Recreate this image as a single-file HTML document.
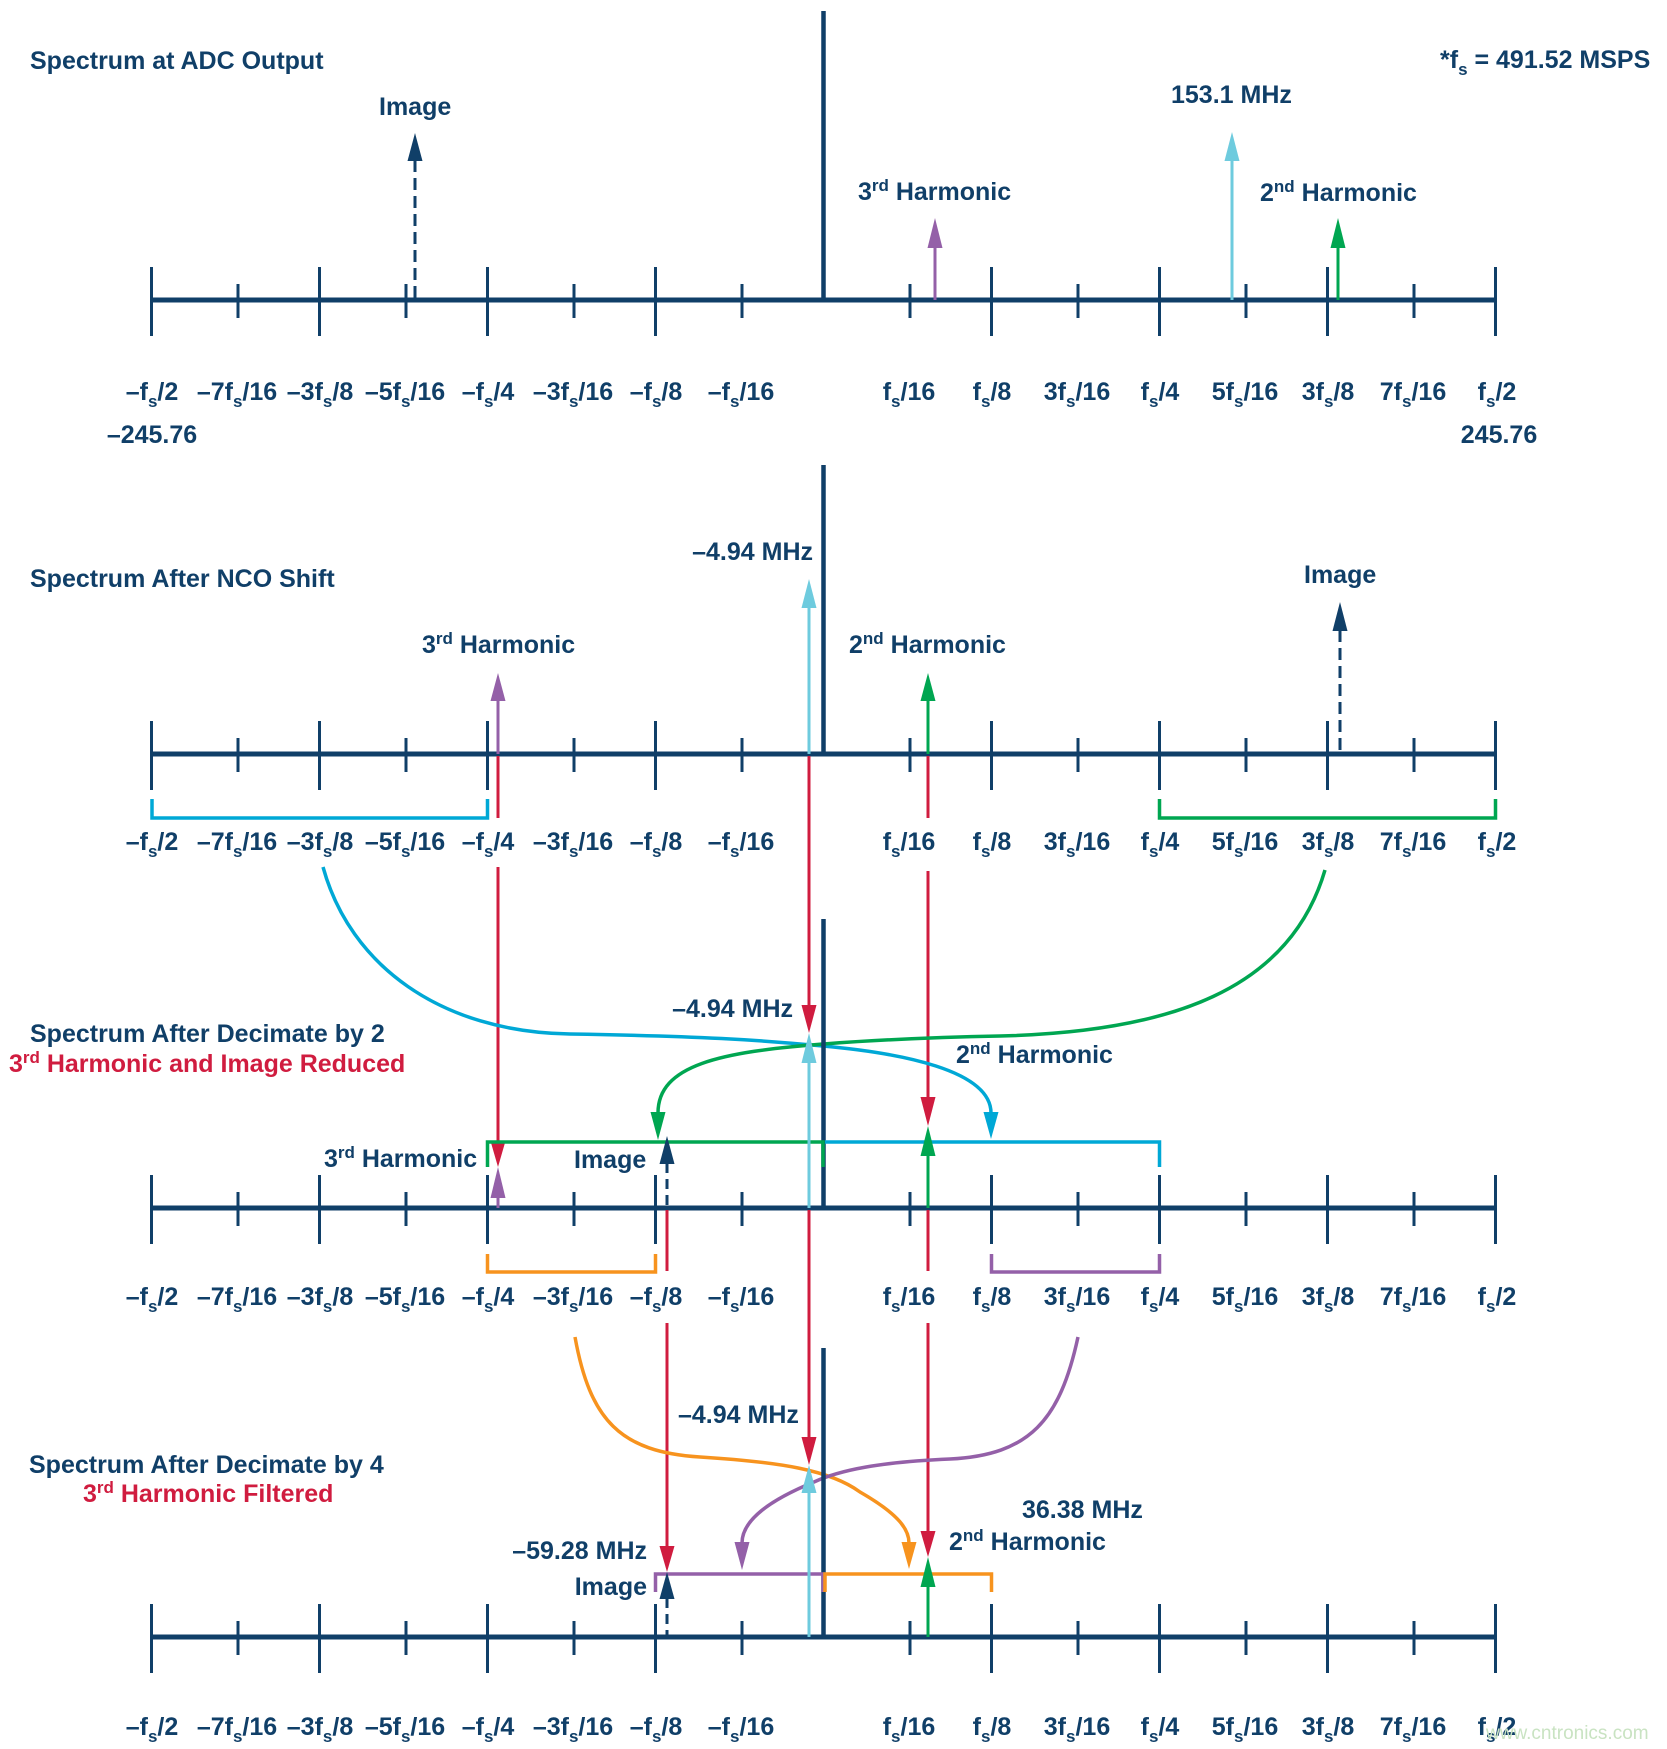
<!DOCTYPE html>
<html>
<head>
<meta charset="utf-8">
<style>
  html,body{margin:0;padding:0;background:#fff;}
  svg{display:block;}
  text{font-family:"Liberation Sans",Arial,sans-serif;font-weight:bold;font-size:25px;fill:#103f68;}
  .red{fill:#d01c3f;}
  .lbl{text-anchor:middle;}
</style>
</head>
<body>
<svg width="1667" height="1749" viewBox="0 0 1667 1749" xmlns="http://www.w3.org/2000/svg">
<defs>
  <g id="axis" stroke="#103f68" fill="none">
    <line x1="151.5" y1="0" x2="1495.5" y2="0" stroke-width="5"/>
    <g stroke-width="3">
      <line x1="151.5" y1="-33" x2="151.5" y2="36"/>
      <line x1="319.5" y1="-33" x2="319.5" y2="36"/>
      <line x1="487.5" y1="-33" x2="487.5" y2="36"/>
      <line x1="655.5" y1="-33" x2="655.5" y2="36"/>
      <line x1="991.5" y1="-33" x2="991.5" y2="36"/>
      <line x1="1159.5" y1="-33" x2="1159.5" y2="36"/>
      <line x1="1327.5" y1="-33" x2="1327.5" y2="36"/>
      <line x1="1495.5" y1="-33" x2="1495.5" y2="36"/>
      <line x1="238" y1="-16" x2="238" y2="18"/>
      <line x1="406" y1="-16" x2="406" y2="18"/>
      <line x1="574" y1="-16" x2="574" y2="18"/>
      <line x1="742" y1="-16" x2="742" y2="18"/>
      <line x1="910" y1="-16" x2="910" y2="18"/>
      <line x1="1078" y1="-16" x2="1078" y2="18"/>
      <line x1="1246" y1="-16" x2="1246" y2="18"/>
      <line x1="1414" y1="-16" x2="1414" y2="18"/>
    </g>
    <line x1="823.5" y1="-289" x2="823.5" y2="0" stroke-width="4.5"/>
  </g>
</defs>

<!-- ============ SECTION 1 ============ -->
<use href="#axis" transform="translate(0,300)"/>
<g stroke-width="3" fill="none">
  <line x1="415" y1="160" x2="415" y2="300" stroke="#103f68" stroke-dasharray="12 6"/>
  <line x1="935" y1="246" x2="935" y2="300" stroke="#9460a8"/>
  <line x1="1232" y1="159" x2="1232" y2="300" stroke="#6ecbde"/>
  <line x1="1338" y1="246" x2="1338" y2="300" stroke="#00a651"/>
</g>
<polygon points="407.5,161 422.5,161 415,133" fill="#103f68"/>
<polygon points="927.5,248 942.5,248 935,218" fill="#9460a8"/>
<polygon points="1224.5,161 1239.5,161 1232,132" fill="#6ecbde"/>
<polygon points="1330.5,248 1345.5,248 1338,218" fill="#00a651"/>

<text x="30" y="69">Spectrum at ADC Output</text>
<text x="1440" y="68">*f<tspan font-size="17" dy="7">s</tspan><tspan dy="-7"> = 491.52 MSPS</tspan></text>
<text x="379" y="115">Image</text>
<text x="858" y="200">3<tspan font-size="17" dy="-9">rd</tspan><tspan dy="9"> Harmonic</tspan></text>
<text x="1171" y="103">153.1 MHz</text>
<text x="1260" y="201">2<tspan font-size="17" dy="-9">nd</tspan><tspan dy="9"> Harmonic</tspan></text>

<g>
<text class="lbl" x="152" y="400">–f<tspan font-size="17" dy="7">s</tspan><tspan dy="-7">/2</tspan></text>
<text class="lbl" x="237" y="400">–7f<tspan font-size="17" dy="7">s</tspan><tspan dy="-7">/16</tspan></text>
<text class="lbl" x="320" y="400">–3f<tspan font-size="17" dy="7">s</tspan><tspan dy="-7">/8</tspan></text>
<text class="lbl" x="405" y="400">–5f<tspan font-size="17" dy="7">s</tspan><tspan dy="-7">/16</tspan></text>
<text class="lbl" x="488" y="400">–f<tspan font-size="17" dy="7">s</tspan><tspan dy="-7">/4</tspan></text>
<text class="lbl" x="573" y="400">–3f<tspan font-size="17" dy="7">s</tspan><tspan dy="-7">/16</tspan></text>
<text class="lbl" x="656" y="400">–f<tspan font-size="17" dy="7">s</tspan><tspan dy="-7">/8</tspan></text>
<text class="lbl" x="741" y="400">–f<tspan font-size="17" dy="7">s</tspan><tspan dy="-7">/16</tspan></text>
<text class="lbl" x="909" y="400">f<tspan font-size="17" dy="7">s</tspan><tspan dy="-7">/16</tspan></text>
<text class="lbl" x="992" y="400">f<tspan font-size="17" dy="7">s</tspan><tspan dy="-7">/8</tspan></text>
<text class="lbl" x="1077" y="400">3f<tspan font-size="17" dy="7">s</tspan><tspan dy="-7">/16</tspan></text>
<text class="lbl" x="1160" y="400">f<tspan font-size="17" dy="7">s</tspan><tspan dy="-7">/4</tspan></text>
<text class="lbl" x="1245" y="400">5f<tspan font-size="17" dy="7">s</tspan><tspan dy="-7">/16</tspan></text>
<text class="lbl" x="1328" y="400">3f<tspan font-size="17" dy="7">s</tspan><tspan dy="-7">/8</tspan></text>
<text class="lbl" x="1413" y="400">7f<tspan font-size="17" dy="7">s</tspan><tspan dy="-7">/16</tspan></text>
<text class="lbl" x="1497" y="400">f<tspan font-size="17" dy="7">s</tspan><tspan dy="-7">/2</tspan></text>
</g>
<text class="lbl" x="152" y="443">–245.76</text>
<text class="lbl" x="1499" y="443">245.76</text>

<!-- ============ SECTION 2 ============ -->
<use href="#axis" transform="translate(0,754)"/>
<g stroke-width="3" fill="none">
  <line x1="809" y1="606" x2="809" y2="754" stroke="#6ecbde"/>
  <line x1="498" y1="699" x2="498" y2="754" stroke="#9460a8"/>
  <line x1="928" y1="699" x2="928" y2="754" stroke="#00a651"/>
  <line x1="1340" y1="630" x2="1340" y2="754" stroke="#103f68" stroke-dasharray="12 6"/>
  <line x1="498" y1="756" x2="498" y2="818" stroke="#d01c3f"/>
  <line x1="928" y1="756" x2="928" y2="818" stroke="#d01c3f"/>
  <line x1="809" y1="756" x2="809" y2="1007" stroke="#d01c3f"/>
</g>
<polygon points="801.5,608 816.5,608 809,579" fill="#6ecbde"/>
<polygon points="490.5,701 505.5,701 498,673" fill="#9460a8"/>
<polygon points="920.5,701 935.5,701 928,673" fill="#00a651"/>
<polygon points="1332.5,631 1347.5,631 1340,602" fill="#103f68"/>
<polygon points="801.5,1005 816.5,1005 809,1033" fill="#d01c3f"/>
<path d="M152,799 V818 H487.5 V799" stroke="#00a8d6" stroke-width="3.5" fill="none"/>
<path d="M1159.5,799 V818 H1495.5 V799" stroke="#00a651" stroke-width="3.5" fill="none"/>

<text x="30" y="587">Spectrum After NCO Shift</text>
<text x="813" y="560" text-anchor="end">–4.94 MHz</text>
<text x="422" y="653">3<tspan font-size="17" dy="-9">rd</tspan><tspan dy="9"> Harmonic</tspan></text>
<text x="849" y="653">2<tspan font-size="17" dy="-9">nd</tspan><tspan dy="9"> Harmonic</tspan></text>
<text x="1304" y="583">Image</text>

<g>
<text class="lbl" x="152" y="850">–f<tspan font-size="17" dy="7">s</tspan><tspan dy="-7">/2</tspan></text>
<text class="lbl" x="237" y="850">–7f<tspan font-size="17" dy="7">s</tspan><tspan dy="-7">/16</tspan></text>
<text class="lbl" x="320" y="850">–3f<tspan font-size="17" dy="7">s</tspan><tspan dy="-7">/8</tspan></text>
<text class="lbl" x="405" y="850">–5f<tspan font-size="17" dy="7">s</tspan><tspan dy="-7">/16</tspan></text>
<text class="lbl" x="488" y="850">–f<tspan font-size="17" dy="7">s</tspan><tspan dy="-7">/4</tspan></text>
<text class="lbl" x="573" y="850">–3f<tspan font-size="17" dy="7">s</tspan><tspan dy="-7">/16</tspan></text>
<text class="lbl" x="656" y="850">–f<tspan font-size="17" dy="7">s</tspan><tspan dy="-7">/8</tspan></text>
<text class="lbl" x="741" y="850">–f<tspan font-size="17" dy="7">s</tspan><tspan dy="-7">/16</tspan></text>
<text class="lbl" x="909" y="850">f<tspan font-size="17" dy="7">s</tspan><tspan dy="-7">/16</tspan></text>
<text class="lbl" x="992" y="850">f<tspan font-size="17" dy="7">s</tspan><tspan dy="-7">/8</tspan></text>
<text class="lbl" x="1077" y="850">3f<tspan font-size="17" dy="7">s</tspan><tspan dy="-7">/16</tspan></text>
<text class="lbl" x="1160" y="850">f<tspan font-size="17" dy="7">s</tspan><tspan dy="-7">/4</tspan></text>
<text class="lbl" x="1245" y="850">5f<tspan font-size="17" dy="7">s</tspan><tspan dy="-7">/16</tspan></text>
<text class="lbl" x="1328" y="850">3f<tspan font-size="17" dy="7">s</tspan><tspan dy="-7">/8</tspan></text>
<text class="lbl" x="1413" y="850">7f<tspan font-size="17" dy="7">s</tspan><tspan dy="-7">/16</tspan></text>
<text class="lbl" x="1497" y="850">f<tspan font-size="17" dy="7">s</tspan><tspan dy="-7">/2</tspan></text>
</g>

<!-- connectors 2 -> 3 -->
<g stroke-width="3" fill="none">
  <line x1="498" y1="867" x2="498" y2="1143" stroke="#d01c3f"/>
  <line x1="928" y1="871" x2="928" y2="1099" stroke="#d01c3f"/>
  <path d="M323,867 C350,965 440,1032 570,1034 C700,1036 760,1040 823,1046 C900,1053 991,1070 991,1113" stroke="#00a8d6" stroke-width="3.5"/>
  <path d="M1325,870 C1290,990 1170,1032 1000,1036 C900,1038 850,1042 823,1044 C720,1052 658,1065 658,1113" stroke="#00a651" stroke-width="3.5"/>
</g>
<polygon points="490.5,1141 505.5,1141 498,1167" fill="#d01c3f"/>
<polygon points="920.5,1097 935.5,1097 928,1126" fill="#d01c3f"/>
<polygon points="983.5,1112 998.5,1112 991,1139" fill="#00a8d6"/>
<polygon points="650.5,1112 665.5,1112 658,1140" fill="#00a651"/>

<!-- ============ SECTION 3 ============ -->
<use href="#axis" transform="translate(0,1208)"/>
<path d="M487.5,1167 V1142 H823 V1167" stroke="#00a651" stroke-width="3.5" fill="none"/>
<path d="M825,1142 H1159.5 V1167" stroke="#00a8d6" stroke-width="3.5" fill="none"/>
<path d="M487.5,1254 V1272 H655.5 V1254" stroke="#f7931e" stroke-width="3.5" fill="none"/>
<path d="M991.5,1254 V1272 H1159.5 V1254" stroke="#9460a8" stroke-width="3.5" fill="none"/>
<g stroke-width="3" fill="none">
  <line x1="809" y1="1061" x2="809" y2="1208" stroke="#6ecbde"/>
  <line x1="928" y1="1154" x2="928" y2="1208" stroke="#00a651"/>
  <line x1="498" y1="1196" x2="498" y2="1208" stroke="#9460a8"/>
  <line x1="667" y1="1163" x2="667" y2="1208" stroke="#103f68" stroke-dasharray="10 6"/>
  <line x1="667" y1="1210" x2="667" y2="1271" stroke="#d01c3f"/>
  <line x1="928" y1="1210" x2="928" y2="1271" stroke="#d01c3f"/>
  <line x1="809" y1="1210" x2="809" y2="1439" stroke="#d01c3f"/>
</g>
<polygon points="801.5,1063 816.5,1063 809,1033" fill="#6ecbde"/>
<polygon points="920.5,1156 935.5,1156 928,1126" fill="#00a651"/>
<polygon points="490.5,1198 505.5,1198 498,1167" fill="#9460a8"/>
<polygon points="659.5,1164 674.5,1164 667,1136" fill="#103f68"/>
<polygon points="801.5,1437 816.5,1437 809,1465" fill="#d01c3f"/>

<text x="30" y="1042">Spectrum After Decimate by 2</text>
<text x="9" y="1072" class="red">3<tspan font-size="17" dy="-9">rd</tspan><tspan dy="9"> Harmonic and Image Reduced</tspan></text>
<text x="793" y="1017" text-anchor="end">–4.94 MHz</text>
<text x="956" y="1063">2<tspan font-size="17" dy="-9">nd</tspan><tspan dy="9"> Harmonic</tspan></text>
<text x="324" y="1167">3<tspan font-size="17" dy="-9">rd</tspan><tspan dy="9"> Harmonic</tspan></text>
<text x="574" y="1168">Image</text>

<g>
<text class="lbl" x="152" y="1305">–f<tspan font-size="17" dy="7">s</tspan><tspan dy="-7">/2</tspan></text>
<text class="lbl" x="237" y="1305">–7f<tspan font-size="17" dy="7">s</tspan><tspan dy="-7">/16</tspan></text>
<text class="lbl" x="320" y="1305">–3f<tspan font-size="17" dy="7">s</tspan><tspan dy="-7">/8</tspan></text>
<text class="lbl" x="405" y="1305">–5f<tspan font-size="17" dy="7">s</tspan><tspan dy="-7">/16</tspan></text>
<text class="lbl" x="488" y="1305">–f<tspan font-size="17" dy="7">s</tspan><tspan dy="-7">/4</tspan></text>
<text class="lbl" x="573" y="1305">–3f<tspan font-size="17" dy="7">s</tspan><tspan dy="-7">/16</tspan></text>
<text class="lbl" x="656" y="1305">–f<tspan font-size="17" dy="7">s</tspan><tspan dy="-7">/8</tspan></text>
<text class="lbl" x="741" y="1305">–f<tspan font-size="17" dy="7">s</tspan><tspan dy="-7">/16</tspan></text>
<text class="lbl" x="909" y="1305">f<tspan font-size="17" dy="7">s</tspan><tspan dy="-7">/16</tspan></text>
<text class="lbl" x="992" y="1305">f<tspan font-size="17" dy="7">s</tspan><tspan dy="-7">/8</tspan></text>
<text class="lbl" x="1077" y="1305">3f<tspan font-size="17" dy="7">s</tspan><tspan dy="-7">/16</tspan></text>
<text class="lbl" x="1160" y="1305">f<tspan font-size="17" dy="7">s</tspan><tspan dy="-7">/4</tspan></text>
<text class="lbl" x="1245" y="1305">5f<tspan font-size="17" dy="7">s</tspan><tspan dy="-7">/16</tspan></text>
<text class="lbl" x="1328" y="1305">3f<tspan font-size="17" dy="7">s</tspan><tspan dy="-7">/8</tspan></text>
<text class="lbl" x="1413" y="1305">7f<tspan font-size="17" dy="7">s</tspan><tspan dy="-7">/16</tspan></text>
<text class="lbl" x="1497" y="1305">f<tspan font-size="17" dy="7">s</tspan><tspan dy="-7">/2</tspan></text>
</g>

<!-- connectors 3 -> 4 -->
<g stroke-width="3" fill="none">
  <line x1="667" y1="1323" x2="667" y2="1547" stroke="#d01c3f"/>
  <line x1="928" y1="1323" x2="928" y2="1533" stroke="#d01c3f"/>
  <path d="M575,1337 C590,1420 620,1452 700,1457 C780,1462 830,1470 860,1492 C900,1515 909,1530 909,1543" stroke="#f7931e" stroke-width="3.5"/>
  <path d="M1078,1337 C1060,1420 1030,1455 950,1459 C880,1462 840,1470 814,1482 C770,1500 742,1520 742,1543" stroke="#9460a8" stroke-width="3.5"/>
</g>
<polygon points="659.5,1546 674.5,1546 667,1572" fill="#d01c3f"/>
<polygon points="920.5,1531 935.5,1531 928,1557" fill="#d01c3f"/>
<polygon points="901.5,1542 916.5,1542 909,1569" fill="#f7931e"/>
<polygon points="734.5,1542 749.5,1542 742,1570" fill="#9460a8"/>

<!-- ============ SECTION 4 ============ -->
<use href="#axis" transform="translate(0,1637)"/>
<path d="M655.5,1592 V1574 H823 V1592" stroke="#9460a8" stroke-width="3.5" fill="none"/>
<path d="M825,1592 V1574 H991.5 V1592" stroke="#f7931e" stroke-width="3.5" fill="none"/>
<g stroke-width="3" fill="none">
  <line x1="809" y1="1491" x2="809" y2="1637" stroke="#6ecbde"/>
  <line x1="928" y1="1585" x2="928" y2="1637" stroke="#00a651"/>
  <line x1="667" y1="1598" x2="667" y2="1637" stroke="#103f68" stroke-dasharray="10 6"/>
</g>
<polygon points="801.5,1493 816.5,1493 809,1465" fill="#6ecbde"/>
<polygon points="920.5,1587 935.5,1587 928,1557" fill="#00a651"/>
<polygon points="659.5,1599 674.5,1599 667,1572" fill="#103f68"/>

<text x="29" y="1473">Spectrum After Decimate by 4</text>
<text x="83" y="1502" class="red">3<tspan font-size="17" dy="-9">rd</tspan><tspan dy="9"> Harmonic Filtered</tspan></text>
<text x="678" y="1423">–4.94 MHz</text>
<text x="647" y="1559" text-anchor="end">–59.28 MHz</text>
<text x="647" y="1595" text-anchor="end">Image</text>
<text x="1022" y="1518">36.38 MHz</text>
<text x="949" y="1550">2<tspan font-size="17" dy="-9">nd</tspan><tspan dy="9"> Harmonic</tspan></text>

<g>
<text class="lbl" x="152" y="1735">–f<tspan font-size="17" dy="7">s</tspan><tspan dy="-7">/2</tspan></text>
<text class="lbl" x="237" y="1735">–7f<tspan font-size="17" dy="7">s</tspan><tspan dy="-7">/16</tspan></text>
<text class="lbl" x="320" y="1735">–3f<tspan font-size="17" dy="7">s</tspan><tspan dy="-7">/8</tspan></text>
<text class="lbl" x="405" y="1735">–5f<tspan font-size="17" dy="7">s</tspan><tspan dy="-7">/16</tspan></text>
<text class="lbl" x="488" y="1735">–f<tspan font-size="17" dy="7">s</tspan><tspan dy="-7">/4</tspan></text>
<text class="lbl" x="573" y="1735">–3f<tspan font-size="17" dy="7">s</tspan><tspan dy="-7">/16</tspan></text>
<text class="lbl" x="656" y="1735">–f<tspan font-size="17" dy="7">s</tspan><tspan dy="-7">/8</tspan></text>
<text class="lbl" x="741" y="1735">–f<tspan font-size="17" dy="7">s</tspan><tspan dy="-7">/16</tspan></text>
<text class="lbl" x="909" y="1735">f<tspan font-size="17" dy="7">s</tspan><tspan dy="-7">/16</tspan></text>
<text class="lbl" x="992" y="1735">f<tspan font-size="17" dy="7">s</tspan><tspan dy="-7">/8</tspan></text>
<text class="lbl" x="1077" y="1735">3f<tspan font-size="17" dy="7">s</tspan><tspan dy="-7">/16</tspan></text>
<text class="lbl" x="1160" y="1735">f<tspan font-size="17" dy="7">s</tspan><tspan dy="-7">/4</tspan></text>
<text class="lbl" x="1245" y="1735">5f<tspan font-size="17" dy="7">s</tspan><tspan dy="-7">/16</tspan></text>
<text class="lbl" x="1328" y="1735">3f<tspan font-size="17" dy="7">s</tspan><tspan dy="-7">/8</tspan></text>
<text class="lbl" x="1413" y="1735">7f<tspan font-size="17" dy="7">s</tspan><tspan dy="-7">/16</tspan></text>
<text class="lbl" x="1497" y="1735">f<tspan font-size="17" dy="7">s</tspan><tspan dy="-7">/2</tspan></text>
</g>

<text x="1486" y="1739" style="font-weight:normal;font-size:19px;fill:#c9e3c2;">www.cntronics.com</text>
</svg>
</body>
</html>
